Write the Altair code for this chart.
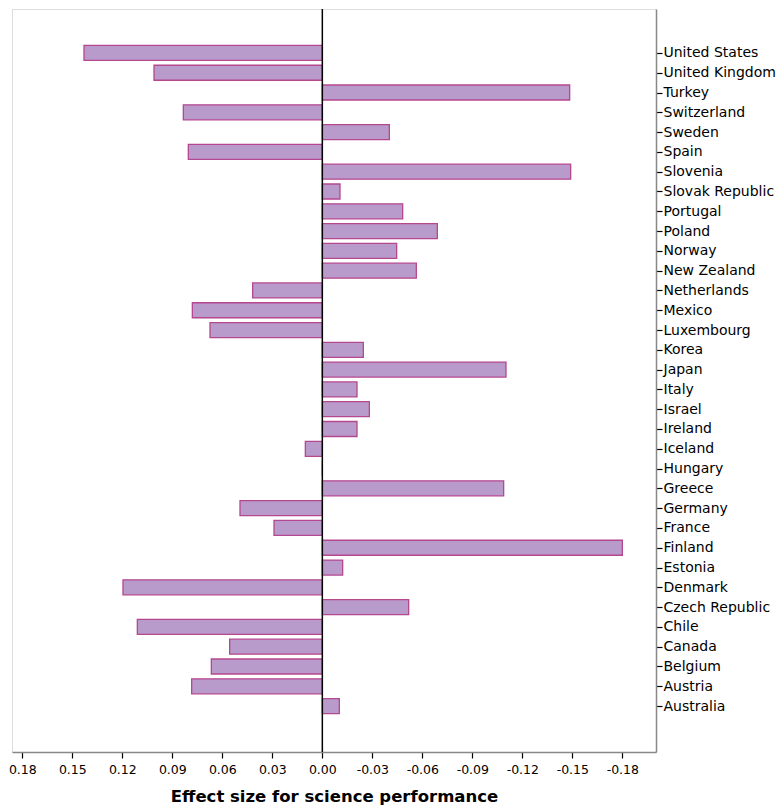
import altair as alt
import pandas as pd

countries = ["United States", "United Kingdom", "Turkey", "Switzerland", "Sweden", "Spain",
             "Slovenia", "Slovak Republic", "Portugal", "Poland", "Norway", "New Zealand",
             "Netherlands", "Mexico", "Luxembourg", "Korea", "Japan", "Italy", "Israel",
             "Ireland", "Iceland", "Hungary", "Greece", "Germany", "France", "Finland",
             "Estonia", "Denmark", "Czech Republic", "Chile", "Canada", "Belgium", "Austria",
             "Australia"]
effects = [0.143, 0.101, -0.1484, 0.0834, -0.0402, 0.0804,
           -0.149, -0.0106, -0.0482, -0.069, -0.0446, -0.0564,
           0.0418, 0.078, 0.0674, -0.0246, -0.1102, -0.0208, -0.0282,
           -0.0208, 0.0102, 0.0, -0.1088, 0.0494, 0.029, -0.18,
           -0.0122, 0.1196, -0.0518, 0.111, 0.0556, 0.0666, 0.0784,
           -0.0102]
tick_values = [0.18, 0.15, 0.12, 0.09, 0.06, 0.03, 0.0, -0.03, -0.06, -0.09, -0.12, -0.15, -0.18]

positions = list(range(len(countries)))
df = pd.DataFrame({"country": countries, "effect": effects, "pos": positions})

FONT = "DejaVu Sans"
HALF_BAR = 0.379

x_scale = alt.Scale(domain=[-0.2002, 0.1862], reverse=True, nice=False, zero=False)
y_scale = alt.Scale(domain=[-2.22, 35.32], reverse=True, nice=False, zero=False)

names_js = "[" + ",".join("'" + c + "'" for c in countries) + "]"

bars = alt.Chart(df).transform_calculate(
    y1=f"datum.pos - {HALF_BAR}", y2=f"datum.pos + {HALF_BAR}", zero="0"
).mark_rect(
    fill="#b99bcb", stroke="#b5478f", strokeWidth=1.3
).encode(
    x=alt.X("effect:Q", scale=x_scale,
            axis=alt.Axis(values=tick_values, title="Effect size for science performance",
                          labelExpr="replace(format(datum.value, '.2f'), '\u2212', '-')",
                          grid=False, domainColor="#888888", domainWidth=1.5,
                          tickColor="#000000", tickSize=6, tickWidth=1.2,
                          labelFont=FONT, labelFontSize=12.5, labelColor="#000000",
                          labelPadding=5, labelFlush=False, titleFont=FONT, titleFontSize=16.5,
                          titleFontWeight="bold", titleColor="#000000", titlePadding=13)),
    x2="zero:Q",
    y=alt.Y("y1:Q", scale=y_scale,
            axis=alt.Axis(orient="right", title=None, grid=False, values=positions,
                          labelExpr=names_js + "[datum.value]",
                          domainColor="#888888", domainWidth=1.5,
                          tickColor="#000000", tickSize=6, tickWidth=1.2,
                          labelFont=FONT, labelFontSize=14, labelColor="#000000",
                          labelPadding=1, labelAlign="left", labelFlush=False,
                          labelBaseline="middle", labelOverlap=False)),
    y2="y2:Q",
)

zero_rule = alt.Chart(pd.DataFrame({"z": [0.0]})).mark_rule(
    color="#000000", strokeWidth=1.5
).encode(x=alt.X("z:Q", scale=x_scale))

chart = alt.layer(bars, zero_rule).properties(
    width=644, height=743
).configure_view(stroke=None).configure(padding=0, background="#ffffff")

chart.save("out.html", embed_options={"renderer": "svg", "actions": False})
